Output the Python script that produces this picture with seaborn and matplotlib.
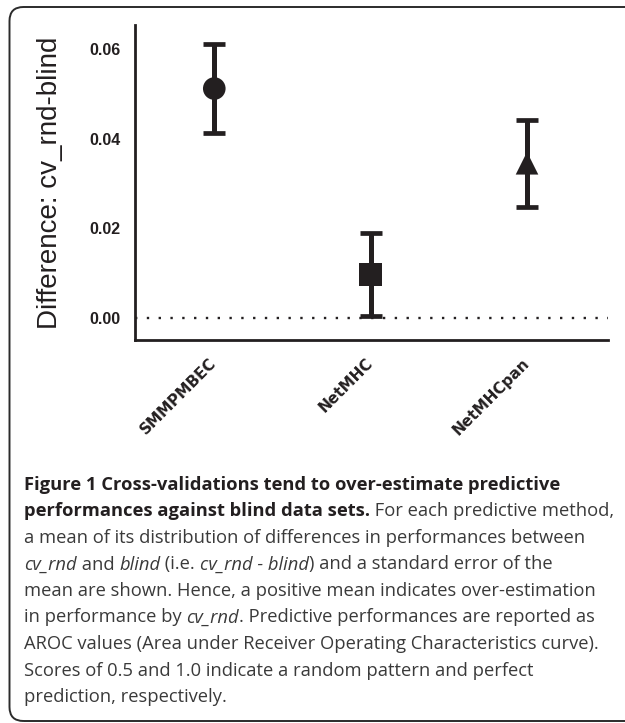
import matplotlib
matplotlib.use("Agg")
import matplotlib.pyplot as plt
import seaborn as sns
import pandas as pd
from matplotlib.patches import FancyBboxPatch
from matplotlib.transforms import IdentityTransform
from matplotlib.font_manager import FontProperties

# ---------------- data ----------------
methods = ["SMMPMBEC", "NetMHC", "NetMHCpan"]
means = [0.0512, 0.0097, 0.0345]
sems = [0.0099, 0.0093, 0.0097]
yticks = [0.00, 0.02, 0.04, 0.06]
ytick_labels = ["0.00", "0.02", "0.04", "0.06"]
ylabel = "Difference: cv_rnd-blind"

caption_lines = [
    [("Figure 1 Cross-validations tend to over-estimate predictive", "b")],
    [("performances against blind data sets.", "b"), (" For each predictive method,", "r")],
    [("a mean of its distribution of differences in performances between", "r")],
    [("cv_rnd", "i"), (" and ", "r"), ("blind", "i"), (" (i.e. ", "r"), ("cv_rnd - blind", "i"),
     (") and a standard error of the", "r")],
    [("mean are shown. Hence, a positive mean indicates over-estimation", "r")],
    [("in performance by ", "r"), ("cv_rnd", "i"), (". Predictive performances are reported as", "r")],
    [("AROC values (Area under Receiver Operating Characteristics curve).", "r")],
    [("Scores of 0.5 and 1.0 indicate a random pattern and perfect", "r")],
    [("prediction, respectively.", "r")],
]

# ---------------- style ----------------
sns.set_style("white")
plt.rcParams["font.family"] = ["Liberation Sans", "DejaVu Sans"]
INK = "#231f20"
W, H = 625, 723

df = pd.DataFrame({"method": methods, "mean": means, "sem": sems})
marker_map = {"SMMPMBEC": "o", "NetMHC": "s", "NetMHCpan": "^"}

fig = plt.figure(figsize=(W / 100, H / 100), dpi=100)
ax_left, ax_right, ax_top, ax_bottom = 135, 608, 25, 340
ax = fig.add_axes([ax_left / W, 1 - ax_bottom / H, (ax_right - ax_left) / W, (ax_bottom - ax_top) / H])

ax.axhline(0, color=INK, lw=1.7, ls=(0, (1, 4)), zorder=1)
ax.errorbar(df["method"], df["mean"], yerr=df["sem"], fmt="none", ecolor=INK,
            elinewidth=3.6, capsize=8, capthick=3.4, zorder=2)
sns.scatterplot(data=df, x="method", y="mean", style="method", markers=marker_map,
                s=265, color=INK, edgecolor=INK, linewidth=0, legend=False, ax=ax, zorder=3)

ax.set_xlim(-0.507, 2.518)
ax.set_ylim(-0.005, 0.0654)
ax.set_yticks(yticks)
ax.set_yticklabels(ytick_labels, fontweight="bold", fontsize=11.5, color=INK)
ax.set_xticks(range(len(methods)))
ax.set_xticklabels(methods, rotation=45, ha="right", va="center", rotation_mode="anchor",
                   fontweight="bold", fontsize=11, color=INK, fontfamily=["DejaVu Sans"])
ax.set_xlabel("")
ax.set_ylabel(ylabel, fontsize=20, color=INK)
ax.yaxis.set_label_coords(-0.152, 0.5)

sns.despine(ax=ax)
for sp in ["left", "bottom"]:
    ax.spines[sp].set_linewidth(2.0)
    ax.spines[sp].set_color(INK)
ax.tick_params(axis="y", length=7, width=2, pad=3.5, color=INK)
ax.tick_params(axis="x", length=6, width=2, pad=9, color=INK)

# ---------------- frame ----------------
frame = FancyBboxPatch((9.5, 2), 640, 714, boxstyle="round,pad=0,rounding_size=14",
                       transform=IdentityTransform(), facecolor="none",
                       edgecolor="#2b2b2b", lw=1.4, zorder=0)
fig.add_artist(frame)

# ---------------- caption ----------------
renderer = fig.canvas.get_renderer()
cap_family = ["Open Sans", "DejaVu Sans"]


def fp_for(style, size):
    return FontProperties(family=cap_family, size=size,
                          weight="bold" if style == "b" else "normal",
                          style="italic" if style == "i" else "normal")


def seg_width(s, style, size):
    fp = fp_for(style, size)
    w1 = renderer.get_text_width_height_descent("|" + s + "|", fp, ismath=False)[0]
    w0 = renderer.get_text_width_height_descent("||", fp, ismath=False)[0]
    return w1 - w0


ref = seg_width(caption_lines[2][0][0], "r", 10)
cap_size = 10 * 564 / ref
x0 = 24
base0 = 490
lead = 26.5
for i, line in enumerate(caption_lines):
    x = x0
    yb = base0 + i * lead
    for s, st in line:
        fig.text(x / W, 1 - yb / H, s, fontproperties=fp_for(st, cap_size),
                 color=INK if st == "b" else "#3a3a3a", va="baseline", ha="left")
        x += seg_width(s, st, cap_size)

fig.savefig("out.png", dpi=100)
